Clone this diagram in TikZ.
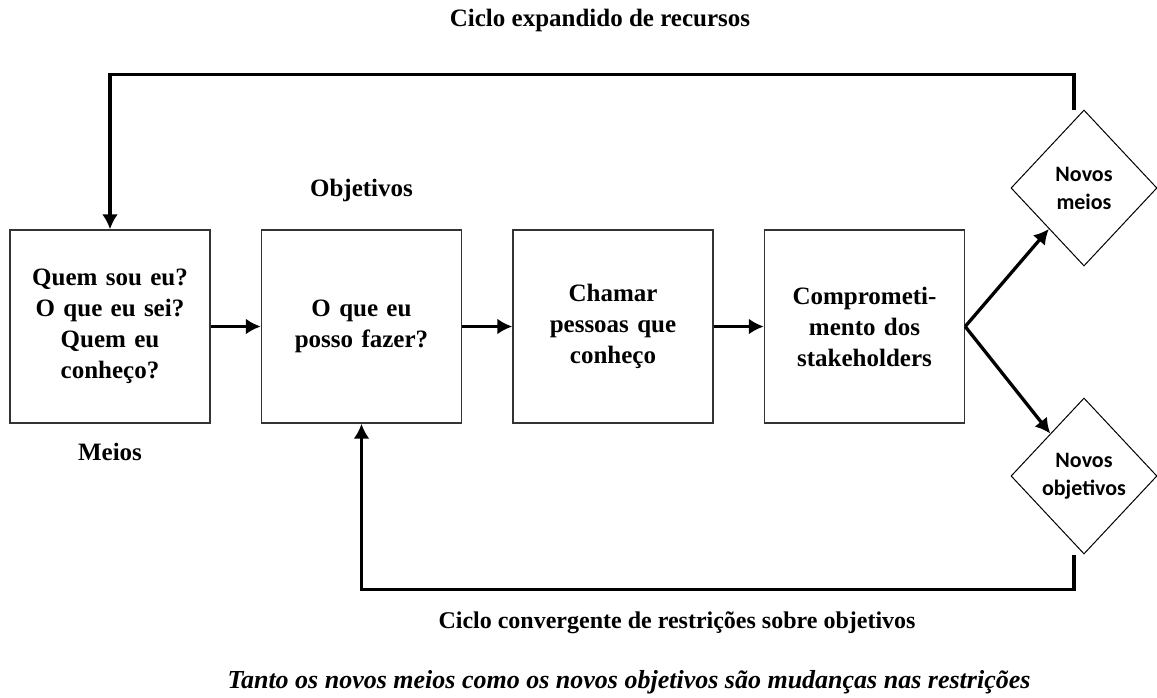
\documentclass[tikz,border=0pt]{standalone}
\usepackage{fontspec}
\setmainfont{Liberation Serif}
\newfontfamily\calibrifont{Carlito}
\usetikzlibrary{shapes,arrows,arrows.meta}
\tikzstyle{block} = [rectangle, draw=black!80, line width=1.4pt, 
    text width=190pt, align=center, minimum width=200pt, minimum height=193pt,
    font=\fontsize{25}{31}\selectfont\bfseries]
\tikzstyle{decision} = [diamond, draw, line width=1pt, inner sep=0pt,
    minimum width=146pt, minimum height=156pt, align=center,
    font=\calibrifont\fontsize{22}{28}\selectfont\bfseries]
\tikzstyle{cycletext} = [font=\fontsize{25}{28}\selectfont\bfseries]
\tikzstyle{line} = [draw, line width=3.3pt, -{Latex[length=15pt,width=16pt]}]

\begin{document}
\begin{tikzpicture}[x=1pt, y=1pt, node distance=251.5pt, auto]
		\useasboundingbox (0,0) rectangle (1157,-697);
		\node [block] (meios) at (110,-326.5) {Quem sou eu?\\O que eu sei?\\Quem eu\\conheço?};
		\node [block, right of=meios] (objs) {O que eu\\posso fazer?};
		\node [block, right of=objs] (chamar) {Chamar\\pessoas que\\conheço};
		\node [block, right of=chamar] (stake) {Comprometi-\\mento dos\\stakeholders};
		\node [decision] (nmeios) at (1084,-188) {Novos\\meios};
		\node [decision, node distance=288pt, below of=nmeios] (nobjs) {Novos\\objetivos};
		
		\node [cycletext] (topcycle) at (600,-20) {Ciclo expandido de recursos};
		\node [cycletext, node distance=136pt, above of=objs] (objlabel) {Objetivos};
		\node [cycletext, node distance=125pt, below of=meios] (meioslabel) {Meios};
		\node [cycletext, font=\fontsize{24}{28}\selectfont\bfseries] (botcycle) at (677,-623) {Ciclo convergente de restrições sobre objetivos};
		\node [cycletext, font=\fontsize{26}{28}\selectfont\bfseries\itshape] (note) at (629,-682) {Tanto os novos meios como os novos objetivos são mudanças nas restrições};
		
		\path [line] (meios) -- (objs);
		\path [line] (objs) -- (chamar);
		\path [line] (chamar) -- (stake);
		\path [line] (stake.east) -- (nmeios);
		\path [line] (stake.east) -- (nobjs);
		\path [line] (nmeios.north) ++(-10,0) -- ++(0,35) -| (meios.north);
		\path [line] (nobjs.south) ++(-10,0) -- ++(0,-35) -| (objs.south);
	\end{tikzpicture}
\end{document}
